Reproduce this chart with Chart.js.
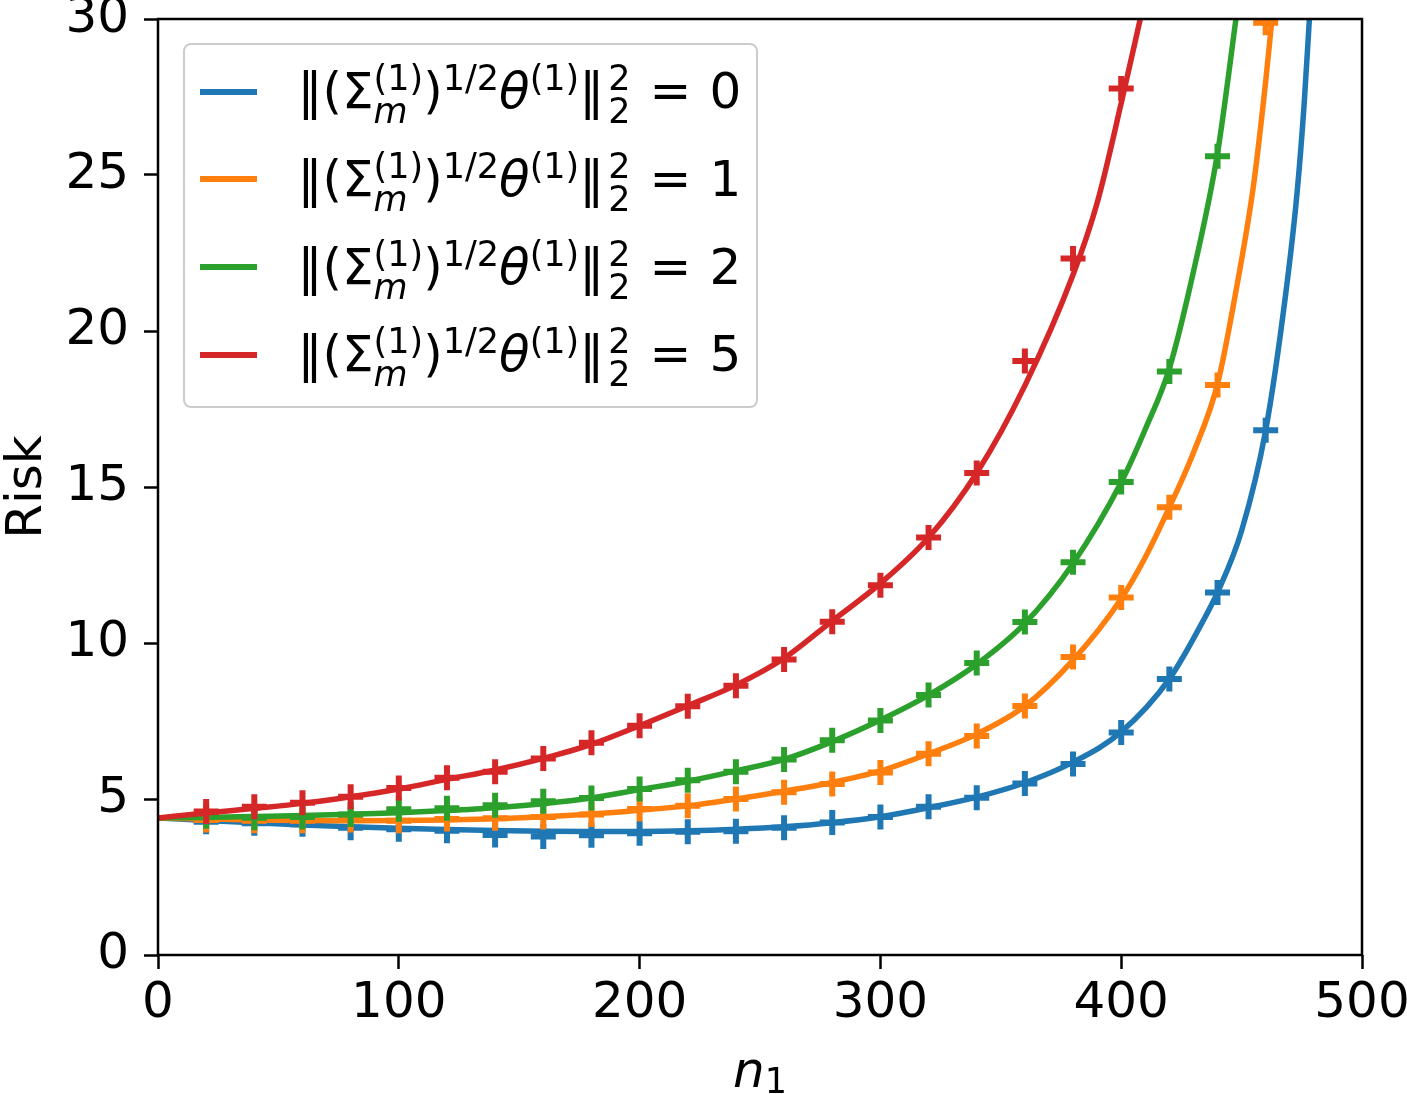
<!DOCTYPE html>
<html>
<head>
<meta charset="utf-8">
<script src="https://cdn.jsdelivr.net/npm/chart.js@4.4.1/dist/chart.umd.min.js"></script>
<style>
  body { margin: 0; background: #fff; }
  #wrap { position: relative; width: 1407px; height: 1094px; font-family: 'DejaVu Sans'; color: #000; overflow: hidden; }
  #chart { position: absolute; left: 0; top: 0; }
  .legend { position: absolute; left: 183px; top: 43px; width: 575px; height: 365px; box-sizing: border-box;
            border: 2.5px solid #cccccc; border-radius: 8px; background: rgba(255,255,255,0.8); }
  .sw { position: absolute; left: 14.5px; width: 57px; height: 6px; }
  .row { position: absolute; left: 112.5px; font-size: 50px; line-height: 50px; white-space: nowrap; }
  .stk { display: inline-flex; flex-direction: column; font-size: 35px; line-height: 33px; position: relative; top: -18px; vertical-align: baseline; }
  .stk.last { margin-left: 4px; }
  .sup { font-size: 35px; position: relative; top: -18px; }
  .eq { margin: 0 18px 0 19px; }
  .ytitle { position: absolute; left: -76px; top: 462px; width: 200px; height: 50px; line-height: 50px; font-size: 50px;
            text-align: center; transform: rotate(-90deg); }
  .xtitle { position: absolute; left: 158px; width: 1204px; top: 1045px; height: 50px; line-height: 50px; font-size: 50px; text-align: center; }
  .xtitle sub { font-size: 35px; vertical-align: baseline; position: relative; top: 6px; }
</style>
</head>
<body>
<div id="wrap">
  <canvas id="chart" width="1407" height="1094"></canvas>
  <div class="ytitle">Risk</div>
  <div class="xtitle"><i>n</i><sub>1</sub></div>
  <div class="legend" id="legend"></div>
</div>
<script>
// axis ticks
const xTicks = [0, 100, 200, 300, 400, 500];
const yTicks = [0, 5, 10, 15, 20, 25, 30];

// legend values of ||(Sigma_m^(1))^(1/2) theta^(1)||_2^2
const normValues = [0, 1, 2, 5];
const colors = ['#1f77b4', '#ff7f0e', '#2ca02c', '#d62728'];

// simulated risk (+ markers)
const markerN = [20, 40, 60, 80, 100, 120, 140, 160, 180, 200, 220, 240, 260, 280, 300, 320, 340, 360, 380, 400, 420, 440, 460];
const markBlue   = [4.27, 4.22, 4.19, 4.08, 4.03, 3.98, 3.85, 3.8, 3.84, 3.9, 3.95, 3.97, 4.08, 4.25, 4.42, 4.75, 5.04, 5.5, 6.12, 7.13, 8.85, 11.62, 16.82];
const markOrange = [4.33, 4.3, 4.3, 4.33, 4.3, 4.36, 4.38, 4.42, 4.5, 4.68, 4.78, 5.0, 5.22, 5.48, 5.85, 6.45, 7.02, 7.98, 9.55, 11.46, 14.35, 18.27, 29.88];
const markGreen  = [4.45, 4.4, 4.42, 4.5, 4.67, 4.7, 4.8, 4.93, 5.03, 5.32, 5.6, 5.87, 6.27, 6.88, 7.52, 8.33, 9.36, 10.67, 12.59, 15.16, 18.7, 25.6];
const markRed    = [4.6, 4.75, 4.88, 5.07, 5.35, 5.68, 5.87, 6.3, 6.8, 7.35, 7.97, 8.63, 9.47, 10.68, 11.85, 13.38, 15.45, 19.04, 22.32, 27.77];

// theoretical risk (solid curves)
const curveNBlue = [0, 20, 40, 60, 80, 100, 120, 140, 160, 180, 200, 220, 240, 260, 280, 300, 320, 340, 360, 380, 400, 420, 435, 440, 450, 460, 468, 473, 476, 478.3];
const curveBlue  = [4.39, 4.31, 4.24, 4.17, 4.11, 4.06, 4.02, 3.99, 3.97, 3.96, 3.96, 3.98, 4.03, 4.11, 4.24, 4.43, 4.72, 5.06, 5.52, 6.18, 7.15, 8.85, 10.85, 11.62, 13.6, 16.82, 21.0, 24.4, 27.3, 30.2];
const curveNOrange = [0, 20, 40, 60, 80, 100, 120, 140, 160, 180, 200, 220, 240, 260, 280, 300, 320, 340, 360, 380, 400, 410, 420, 430, 440, 447, 455, 460, 463];
const curveOrange  = [4.39, 4.36, 4.33, 4.31, 4.3, 4.31, 4.33, 4.37, 4.43, 4.52, 4.64, 4.78, 5.0, 5.25, 5.53, 5.9, 6.45, 7.08, 7.98, 9.45, 11.42, 12.75, 14.35, 16.1, 18.3, 21.0, 24.7, 28.0, 30.3];
const curveNGreen = [0, 20, 40, 60, 80, 100, 120, 140, 160, 180, 200, 220, 240, 260, 280, 300, 320, 340, 360, 380, 400, 410, 420, 430, 440, 448];
const curveGreen  = [4.39, 4.41, 4.44, 4.47, 4.51, 4.56, 4.63, 4.72, 4.85, 5.03, 5.3, 5.57, 5.9, 6.27, 6.84, 7.53, 8.33, 9.32, 10.63, 12.55, 15.15, 16.85, 18.8, 21.9, 25.7, 30.2];
const curveNRed = [0, 20, 40, 60, 80, 100, 120, 140, 160, 180, 200, 220, 240, 260, 280, 300, 320, 340, 360, 380, 390, 400, 408.5];
const curveRed  = [4.39, 4.55, 4.7, 4.86, 5.07, 5.32, 5.63, 5.93, 6.3, 6.75, 7.35, 7.99, 8.65, 9.51, 10.71, 11.91, 13.38, 15.45, 18.25, 21.8, 24.1, 27.3, 30.2];

const toXY = (xs, ys) => ys.map((y, i) => ({ x: xs[i], y: y }));

const curves = [[curveNBlue, curveBlue], [curveNOrange, curveOrange], [curveNGreen, curveGreen], [curveNRed, curveRed]];
const marks = [markBlue, markOrange, markGreen, markRed];

// per series: markers first, line over them; later series on top
const datasets = [];
for (let k = 0; k < 4; k++) {
    datasets.push({
        label: 'sim' + normValues[k],
        data: toXY(markerN, marks[k]),
        showLine: false,
        pointStyle: 'cross',
        pointRadius: 12.5,
        pointBorderWidth: 6,
        pointBorderColor: colors[k],
        borderColor: colors[k],
        clip: 0,
        order: 7 - 2 * k
    });
    datasets.push({
        label: 'curve' + normValues[k],
        data: toXY(curves[k][0], curves[k][1]),
        showLine: true,
        borderColor: colors[k],
        borderWidth: 5.5,
        pointRadius: 0,
        cubicInterpolationMode: 'monotone',
        clip: 0,
        order: 6 - 2 * k
    });
}

// black box around the plot area
const framePlugin = {
    id: 'frame',
    afterDraw(chart) {
        const a = chart.chartArea;
        const c = chart.ctx;
        c.save();
        c.strokeStyle = '#000';
        c.lineWidth = 2.5;
        c.strokeRect(a.left, a.top, a.right - a.left, a.bottom - a.top);
        c.restore();
    }
};

const tickFont = { family: 'DejaVu Sans', size: 50 };

new Chart(document.getElementById('chart'), {
    type: 'scatter',
    data: { datasets: datasets },
    plugins: [framePlugin],
    options: {
        responsive: false,
        animation: false,
        events: [],
        devicePixelRatio: 1,
        layout: { padding: { left: 0, right: 45, top: 19, bottom: 0 } },
        plugins: { legend: { display: false }, tooltip: { enabled: false } },
        scales: {
            x: {
                type: 'linear', min: 0, max: 500,
                afterBuildTicks: s => { s.ticks = xTicks.map(v => ({ value: v })); },
                afterFit: s => { s.height = 139; s.paddingLeft = 0; s.paddingRight = 0; },
                ticks: { font: tickFont, color: '#000', padding: 5, maxRotation: 0 },
                grid: { drawOnChartArea: false, drawTicks: true, tickLength: 14, tickWidth: 2.5, tickColor: '#000', color: '#000' },
                border: { display: false }
            },
            y: {
                type: 'linear', min: 0, max: 30,
                afterBuildTicks: s => { s.ticks = yTicks.map(v => ({ value: v })); },
                afterFit: s => { s.width = 158; s.paddingTop = 0; s.paddingBottom = 0; },
                ticks: { font: tickFont, color: '#000', padding: 15 },
                grid: { drawOnChartArea: false, drawTicks: true, tickLength: 14, tickWidth: 2.5, tickColor: '#000', color: '#000' },
                border: { display: false }
            }
        }
    }
});

// legend with the math labels as html text
const legend = document.getElementById('legend');
const rowStep = 87.67;
normValues.forEach((v, k) => {
    const sw = document.createElement('div');
    sw.className = 'sw';
    sw.style.top = (43.5 + k * rowStep) + 'px';
    sw.style.background = colors[k];
    legend.appendChild(sw);

    const row = document.createElement('div');
    row.className = 'row';
    row.style.top = (21.2 + k * rowStep) + 'px';
    row.innerHTML = '\u2016(\u03A3<span class="stk"><span>(1)</span><span><i>m</i></span></span>)' +
        '<span class="sup">1/2</span><i>\u03B8</i><span class="sup">(1)</span>\u2016' +
        '<span class="stk last"><span>2</span><span>2</span></span><span class="eq">=</span>' + v;
    legend.appendChild(row);
});
</script>
</body>
</html>
